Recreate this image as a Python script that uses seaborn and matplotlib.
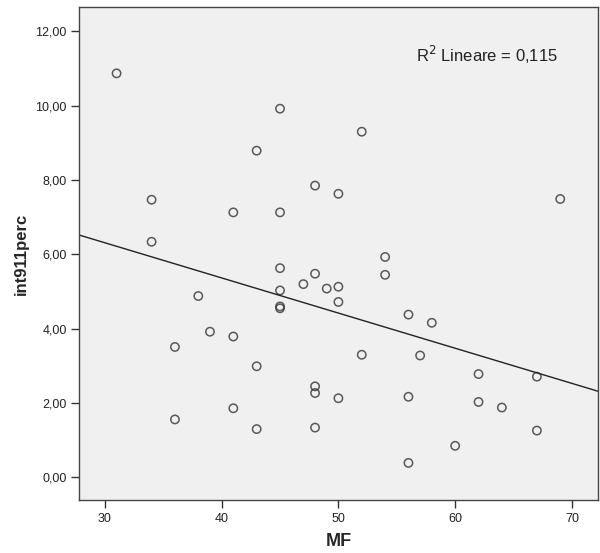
import matplotlib
matplotlib.use("Agg")
import matplotlib.pyplot as plt
import matplotlib.ticker as mticker
import pandas as pd
import seaborn as sns

# MF vs int911perc values
mf = [31, 45, 43, 52, 48, 50, 34, 41, 45, 69, 34, 54, 45, 48, 54, 47, 49, 50,
      45, 38, 45, 45, 50, 56, 58, 39, 41, 36, 52, 57, 43, 62, 67, 48, 48, 50, 56,
      62, 64, 41, 36, 48, 43, 67, 60, 56]
int911perc = [10.87, 9.92, 8.79, 9.30, 7.85, 7.63, 7.47, 7.13, 7.13, 7.49, 6.34,
              5.93, 5.63, 5.48, 5.45, 5.20, 5.08, 5.13, 5.03, 4.88, 4.60, 4.55, 4.72,
              4.38, 4.16, 3.92, 3.79, 3.51, 3.30, 3.28, 2.99, 2.78, 2.71, 2.45, 2.27,
              2.13, 2.17, 2.03, 1.88, 1.86, 1.56, 1.34, 1.30, 1.26, 0.85, 0.39]
r2_label = "R$^2$ Lineare = 0,115"

df = pd.DataFrame({"MF": mf, "int911perc": int911perc})

sns.set_style("ticks")
plt.rcParams["font.family"] = ["Liberation Sans", "DejaVu Sans"]

fig = plt.figure(figsize=(6, 5.53), dpi=100)
ax = fig.add_axes([0.132, 0.095, 0.865, 0.892])
ax.set_facecolor("#f0f0f0")
ax.set_xlim(27.8, 72.25)
ax.set_ylim(-0.62, 12.65)

sns.regplot(data=df, x="MF", y="int911perc", ax=ax, ci=None, truncate=False,
            scatter_kws=dict(s=36, facecolors="none", edgecolors="#333333", linewidths=1.1),
            line_kws=dict(color="#222222", linewidth=1.0))

ax.set_xticks([30, 40, 50, 60, 70])
ax.set_yticks([0, 2, 4, 6, 8, 10, 12])
ax.yaxis.set_major_formatter(mticker.FuncFormatter(lambda v, p: f"{v:.2f}".replace(".", ",")))
ax.tick_params(axis="both", direction="out", length=5.5, width=1, colors="#333333", labelsize=9)
ax.tick_params(axis="both", labelcolor="#222222")

for side in ["left", "bottom", "top", "right"]:
    ax.spines[side].set_visible(True)
    ax.spines[side].set_color("#444444")
    ax.spines[side].set_linewidth(1)

ax.set_xlabel("MF", fontsize=13, fontweight="bold", labelpad=6)
ax.set_ylabel("int911perc", fontsize=12, fontweight="bold", labelpad=5)

ax.text(68.8, 11.37, r2_label, ha="right", va="center", fontsize=12, color="#222222")

fig.savefig("out.png", dpi=100, facecolor="white")
